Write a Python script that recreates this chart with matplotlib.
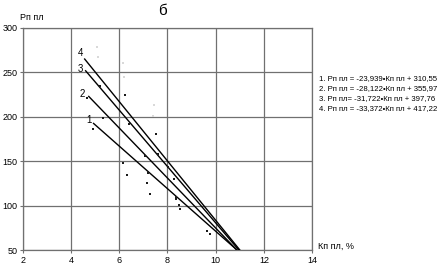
import numpy as np
import matplotlib
matplotlib.use("Agg")
import matplotlib.pyplot as plt

plt.rcParams['font.family'] = ['Liberation Sans', 'DejaVu Sans']

# measured points (Кп пл, Рп пл)
dark_x = [4.66, 5.20, 6.23, 5.32, 4.90, 6.40, 7.52, 7.06, 7.60, 6.15, 8.02,
          6.32, 7.19, 8.27, 7.15, 7.27, 8.35, 8.35, 8.47, 8.51, 9.63, 9.76]
dark_y = [221.4, 235.0, 224.7, 198.9, 186.5, 192.1, 180.8, 156.0, 158.3, 148.2, 143.6,
          134.6, 136.9, 130.1, 125.6, 113.2, 109.8, 107.6, 100.8, 96.3, 71.5, 68.1]
light_x = [5.07, 5.11, 6.15, 6.19, 7.44, 7.39]
light_y = [278.9, 267.6, 260.9, 245.1, 213.5, 201.1]

# regression lines  Рп = a*Кп + b
slopes = [-23.939, -28.122, -31.722, -33.372]
intercepts = [310.55, 355.97, 397.76, 417.22]
x_start = [4.93, 4.73, 4.60, 4.56]
line_names = ['1', '2', '3', '4']
eq_texts = ['1. Рп пл = -23,939•Кп пл + 310,55',
            '2. Рп пл = -28,122•Кп пл + 355,97',
            '3. Рп пл= -31,722•Кп пл + 397,76',
            '4. Рп пл = -33,372•Кп пл + 417,22']
label_pos = [(4.72, 196), (4.45, 226), (4.37, 254), (4.37, 272)]

fig = plt.figure(figsize=(4.39, 2.67), dpi=100)
ax = fig.add_axes([23/439, 17/267, 289/439, 222/267])

for a, b, xs in zip(slopes, intercepts, x_start):
    xe = (50 - b) / a
    ax.plot([xs, xe], [a*xs + b, a*xe + b], color='black', lw=1.0, zorder=3)

ax.scatter(light_x, light_y, s=4, marker='s', color='#d9d9d9', zorder=2, linewidths=0)
ax.scatter(dark_x, dark_y, s=4.5, marker='s', color='#1a1a1a', zorder=4, linewidths=0)

for name, (lx, ly) in zip(line_names, label_pos):
    ax.text(lx, ly, name, fontsize=7, ha='center', va='center')

ax.set_xlim(2, 14)
ax.set_ylim(50, 300)
ax.set_xticks([2, 4, 6, 8, 10, 12, 14])
ax.set_yticks([50, 100, 150, 200, 250, 300])
ax.grid(True, color='#707070', lw=0.9)
for s in ax.spines.values():
    s.set_color('#707070')
    s.set_linewidth(0.9)
ax.tick_params(labelsize=6.5, length=2, width=0.8, color='#707070', pad=2)

fig.text(162/439, 1 - 11/267, 'б', fontsize=11, ha='center', va='center')
fig.text(20/439, 1 - 17/267, 'Рп пл', fontsize=6.5, ha='left', va='center')
fig.text(318/439, 1 - 246/267, 'Кп пл, %', fontsize=6.5, ha='left', va='center')

for i, t in enumerate(eq_texts):
    fig.text(319/439, 1 - (79 + 9.8*i)/267, t, fontsize=5.6, ha='left', va='center')

fig.savefig('out.png', dpi=100)
